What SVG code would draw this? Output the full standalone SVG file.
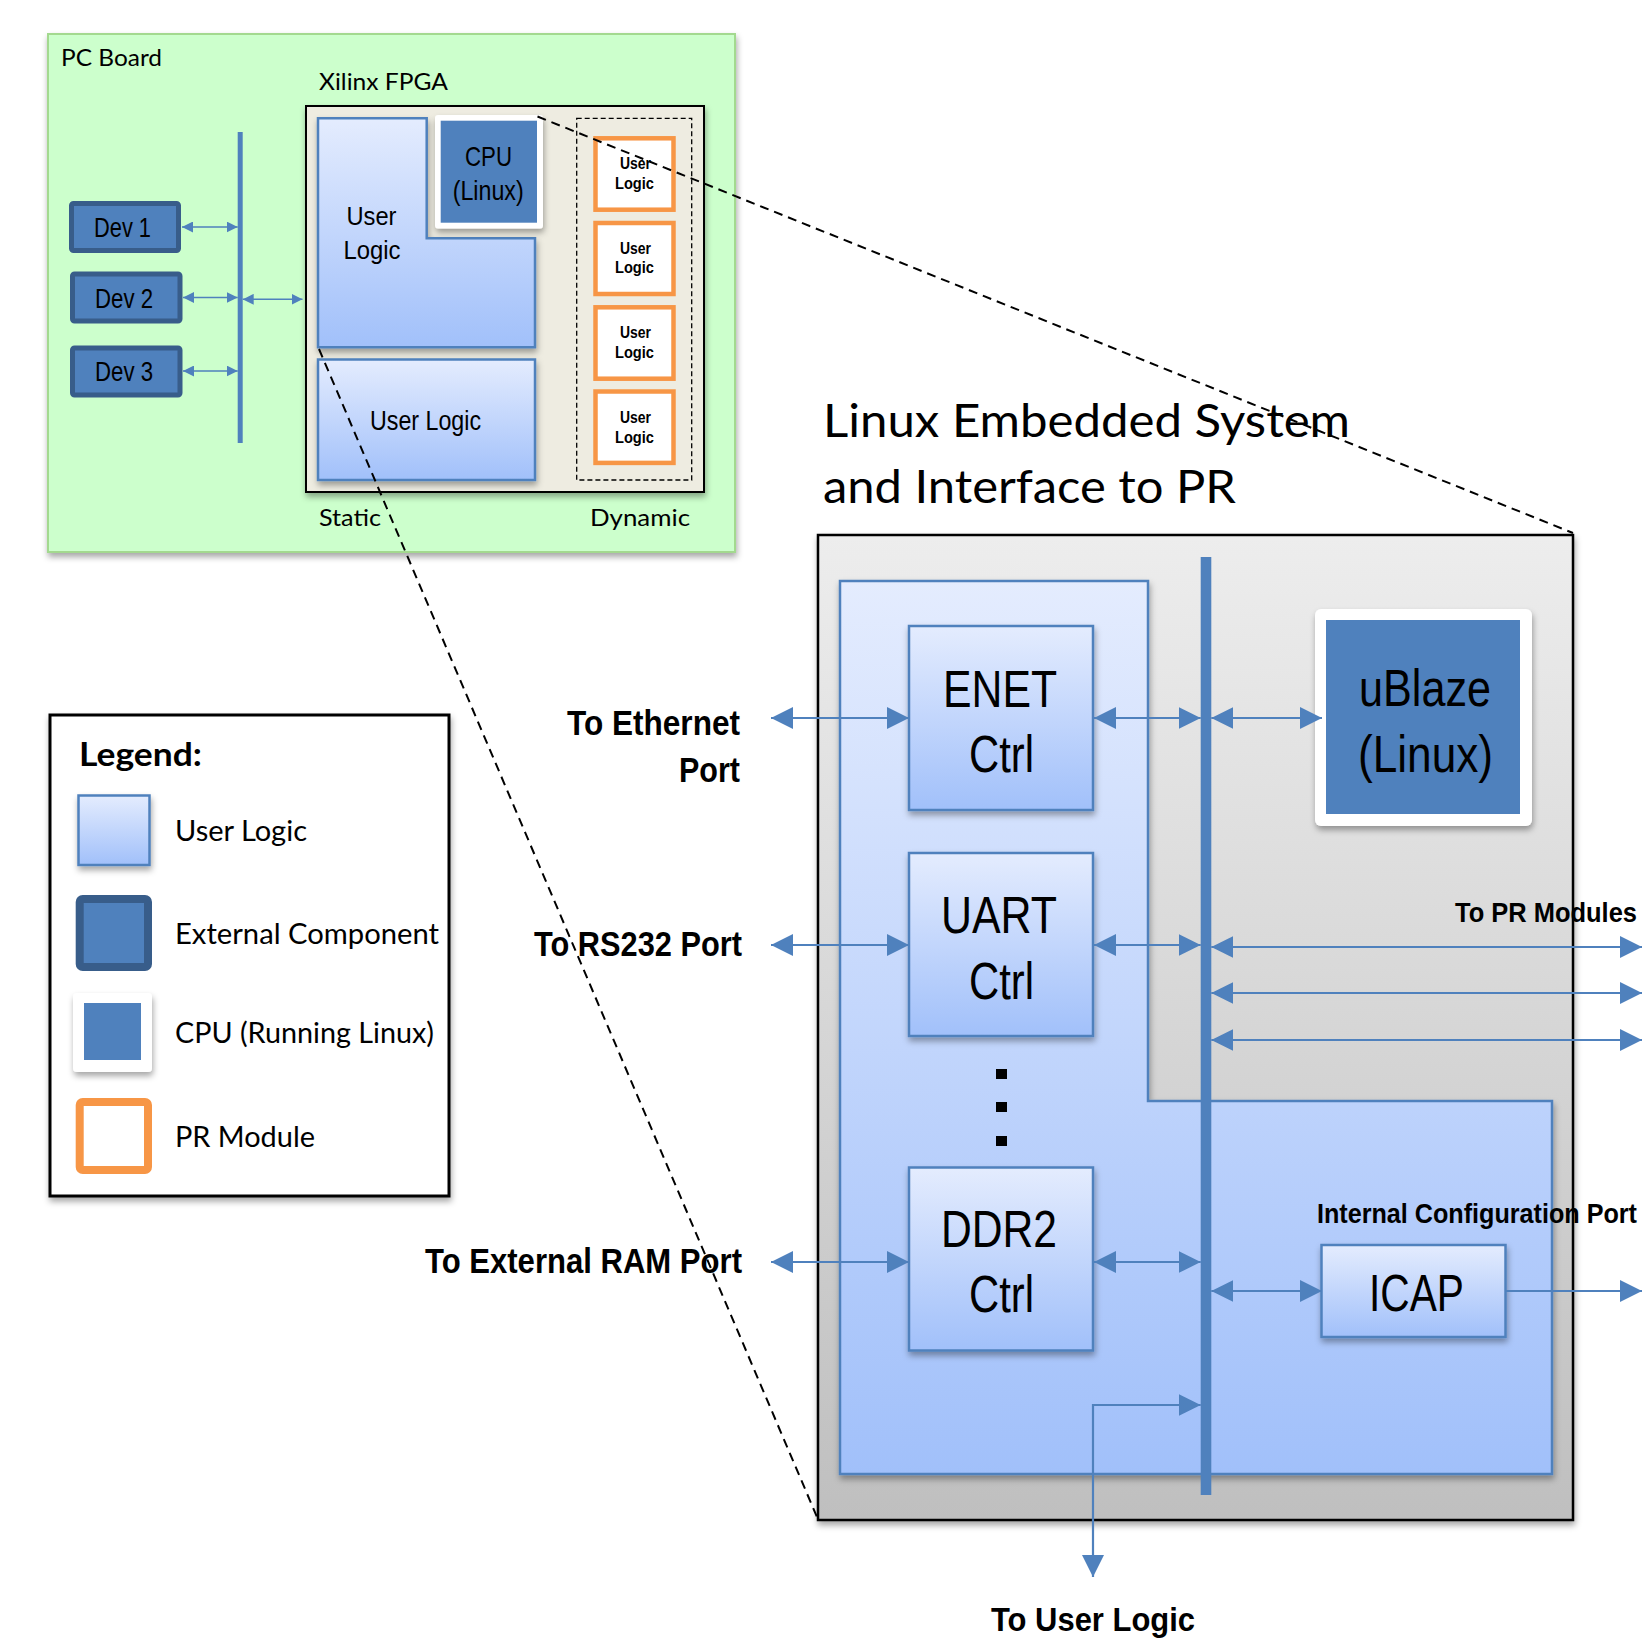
<svg xmlns="http://www.w3.org/2000/svg" width="1643" height="1640" viewBox="0 0 1643 1640">
  <defs>
    <linearGradient id="gUser" x1="0" y1="0" x2="0" y2="1">
      <stop offset="0" stop-color="#e4ecfe"/>
      <stop offset="1" stop-color="#a1c0fa"/>
    </linearGradient>
    <linearGradient id="gGrey" x1="0" y1="0" x2="0" y2="1">
      <stop offset="0" stop-color="#ededed"/>
      <stop offset="1" stop-color="#bfbfbf"/>
    </linearGradient>
    <filter id="sh" x="-10%" y="-10%" width="130%" height="130%">
      <feDropShadow dx="1" dy="4" stdDeviation="3" flood-color="#000" flood-opacity="0.35"/>
    </filter>
    <marker id="ah" markerUnits="userSpaceOnUse" markerWidth="22" markerHeight="22" viewBox="0 0 22 22" refX="22" refY="11" orient="auto-start-reverse">
      <path d="M0,0 L22,11 L0,22 Z" fill="#4f81bd"/>
    </marker>
    <marker id="as" markerUnits="userSpaceOnUse" markerWidth="11" markerHeight="11" viewBox="0 0 11 11" refX="11" refY="5.5" orient="auto-start-reverse">
      <path d="M0,0 L11,5.5 L0,11 Z" fill="#4f81bd"/>
    </marker>
  </defs>
  <style>
    .n { font-family: "Liberation Sans", Arial, sans-serif; fill: #000; }
    .c { font-family: Lato, "Open Sans", sans-serif; fill: #000; }
    .b { font-weight: bold; }
    .ul { fill: url(#gUser); stroke: #4f81bd; stroke-width: 2.5; filter: url(#sh); }
    .ext { fill: #4f81bd; stroke: #385d8a; stroke-width: 5; }
    .pr { fill: #fff; stroke: #f79646; stroke-width: 4.5; }
    .cpuf { fill: #fff; filter: url(#sh); }
    .blue { fill: #4f81bd; }
    .zoom { fill: none; stroke: #000; stroke-width: 2; stroke-dasharray: 9 6; }
    .cs { fill: none; stroke: #4f81bd; stroke-width: 1.6; marker-start: url(#as); marker-end: url(#as); }
    .cl { fill: none; stroke: #4f81bd; stroke-width: 2.2; marker-start: url(#ah); marker-end: url(#ah); }
    .cl1 { fill: none; stroke: #4f81bd; stroke-width: 2.2; marker-end: url(#ah); }
  </style>

  <rect x="0" y="0" width="1643" height="1640" fill="#fff"/>

  <!-- Board-level view -->
  <g id="pc-board">
    <rect x="48" y="34" width="687" height="518" fill="#ccffcc" stroke="#a3d98f" stroke-width="2" filter="url(#sh)"/>
    <text class="c" x="61" y="66" font-size="24" textLength="101" lengthAdjust="spacingAndGlyphs">PC Board</text>
  </g>

  <g id="dev1">
    <rect class="ext" x="71.5" y="203.5" width="107" height="47" rx="2"/>
    <text class="n" x="94" y="237" font-size="28" textLength="57" lengthAdjust="spacingAndGlyphs">Dev 1</text>
  </g>
  <g id="dev2">
    <rect class="ext" x="72.5" y="274" width="107.5" height="47" rx="2"/>
    <text class="n" x="95" y="307.5" font-size="28" textLength="58" lengthAdjust="spacingAndGlyphs">Dev 2</text>
  </g>
  <g id="dev3">
    <rect class="ext" x="72.5" y="348" width="107.5" height="47" rx="2"/>
    <text class="n" x="95" y="381" font-size="28" textLength="58" lengthAdjust="spacingAndGlyphs">Dev 3</text>
  </g>
  <g id="board-bus">
    <rect x="237.7" y="132" width="5" height="311" fill="#4f81bd"/>
  </g>

  <g id="fpga">
    <rect x="306" y="106" width="398" height="386" fill="#eeece1" stroke="#000" stroke-width="2" filter="url(#sh)"/>
    <text class="c" x="319" y="90" font-size="23" textLength="129" lengthAdjust="spacingAndGlyphs">Xilinx FPGA</text>
    <text class="c" x="319" y="526" font-size="24" textLength="62" lengthAdjust="spacingAndGlyphs">Static</text>
    <text class="c" x="590" y="526" font-size="24" textLength="100" lengthAdjust="spacingAndGlyphs">Dynamic</text>
  </g>

  <g id="static-user-logic-a">
    <path class="ul" d="M318,118.3 H426.7 V238.3 H535 V347.3 H318 Z" stroke-width="1.6"/>
    <text class="n" x="346.5" y="225" font-size="25" textLength="50" lengthAdjust="spacingAndGlyphs">User</text>
    <text class="n" x="343.5" y="259.3" font-size="25" textLength="57" lengthAdjust="spacingAndGlyphs">Logic</text>
  </g>
  <g id="static-cpu">
    <rect class="cpuf" x="435" y="115" width="108" height="113.5" rx="3"/>
    <rect class="blue" x="440.7" y="120.7" width="96.3" height="102"/>
    <text class="n" x="465" y="165.7" font-size="28" textLength="47" lengthAdjust="spacingAndGlyphs">CPU</text>
    <text class="n" x="452.7" y="200" font-size="28" textLength="71" lengthAdjust="spacingAndGlyphs">(Linux)</text>
  </g>
  <g id="static-user-logic-b">
    <rect class="ul" x="318" y="359.5" width="217" height="120.5" stroke-width="1.6"/>
    <text class="n" x="370" y="430" font-size="27" textLength="111" lengthAdjust="spacingAndGlyphs">User Logic</text>
  </g>

  <g id="dynamic-region">
    <rect x="576.7" y="118.3" width="115" height="361.7" fill="none" stroke="#000" stroke-width="1.3" stroke-dasharray="5 3"/>
  </g>
  <g id="pr1">
    <rect class="pr" x="595.5" y="138.3" width="78" height="71.4"/>
    <text class="n b" x="620" y="169" font-size="16" textLength="31" lengthAdjust="spacingAndGlyphs">User</text>
    <text class="n b" x="615" y="189.3" font-size="16" textLength="39" lengthAdjust="spacingAndGlyphs">Logic</text>
  </g>
  <g id="pr2">
    <rect class="pr" x="595.5" y="223" width="78" height="71"/>
    <text class="n b" x="620" y="254" font-size="16" textLength="31" lengthAdjust="spacingAndGlyphs">User</text>
    <text class="n b" x="615" y="273.3" font-size="16" textLength="39" lengthAdjust="spacingAndGlyphs">Logic</text>
  </g>
  <g id="pr3">
    <rect class="pr" x="595.5" y="307.3" width="78" height="71.4"/>
    <text class="n b" x="620" y="338.3" font-size="16" textLength="31" lengthAdjust="spacingAndGlyphs">User</text>
    <text class="n b" x="615" y="358.3" font-size="16" textLength="39" lengthAdjust="spacingAndGlyphs">Logic</text>
  </g>
  <g id="pr4">
    <rect class="pr" x="595.5" y="391.5" width="78" height="71.4"/>
    <text class="n b" x="620" y="423.3" font-size="16" textLength="31" lengthAdjust="spacingAndGlyphs">User</text>
    <text class="n b" x="615" y="443.3" font-size="16" textLength="39" lengthAdjust="spacingAndGlyphs">Logic</text>
  </g>

  <!-- Legend -->
  <g id="legend">
    <rect x="50" y="715" width="399" height="481" fill="#fff" stroke="#000" stroke-width="3" filter="url(#sh)"/>
    <text class="c b" x="79" y="766" font-size="32" textLength="123" lengthAdjust="spacingAndGlyphs">Legend:</text>
    <rect class="ul" x="78.5" y="795.5" width="71" height="69.5" stroke-width="2.5"/>
    <text class="c" x="175" y="841" font-size="28" textLength="132" lengthAdjust="spacingAndGlyphs">User Logic</text>
    <rect x="79.7" y="899" width="68.3" height="68" rx="3" fill="#4f81bd" stroke="#385d8a" stroke-width="8"/>
    <text class="c" x="175" y="944" font-size="28" textLength="264" lengthAdjust="spacingAndGlyphs">External Component</text>
    <rect class="cpuf" x="73" y="993" width="79" height="79" rx="4"/>
    <rect class="blue" x="84" y="1003" width="57" height="57"/>
    <text class="c" x="175" y="1043" font-size="28" textLength="259" lengthAdjust="spacingAndGlyphs">CPU (Running Linux)</text>
    <rect x="79.7" y="1102" width="68.3" height="68" rx="3" fill="#fff" stroke="#f79646" stroke-width="8"/>
    <text class="c" x="175" y="1147" font-size="28" textLength="140" lengthAdjust="spacingAndGlyphs">PR Module</text>
  </g>

  <!-- Embedded system detail -->
  <g id="title">
    <text class="c" x="823" y="437" font-size="46" textLength="527" lengthAdjust="spacingAndGlyphs">Linux Embedded System</text>
    <text class="c" x="823" y="503" font-size="46" textLength="413" lengthAdjust="spacingAndGlyphs">and Interface to PR</text>
  </g>

  <g id="embedded-system">
    <rect x="818" y="535" width="755" height="985" fill="url(#gGrey)" stroke="#000" stroke-width="2.5" filter="url(#sh)"/>
  </g>
  <g id="static-logic-panel">
    <path class="ul" d="M840,581 H1148 V1101 H1552 V1474 H840 Z" stroke-width="2.5"/>
  </g>
  <g id="system-bus">
    <rect x="1200.7" y="557" width="10.6" height="938" fill="#4f81bd"/>
  </g>

  <g id="enet">
    <rect class="ul" x="909" y="626" width="184" height="184"/>
    <text class="n" x="943" y="707" font-size="52" textLength="114" lengthAdjust="spacingAndGlyphs">ENET</text>
    <text class="n" x="969" y="772" font-size="52" textLength="65" lengthAdjust="spacingAndGlyphs">Ctrl</text>
  </g>
  <g id="uart">
    <rect class="ul" x="909" y="853" width="184" height="183"/>
    <text class="n" x="941" y="933" font-size="52" textLength="116" lengthAdjust="spacingAndGlyphs">UART</text>
    <text class="n" x="969" y="999" font-size="52" textLength="65" lengthAdjust="spacingAndGlyphs">Ctrl</text>
  </g>
  <g id="more-peripherals">
    <rect x="996" y="1069" width="11" height="10"/>
    <rect x="996" y="1102" width="11" height="10"/>
    <rect x="996" y="1136" width="11" height="10"/>
  </g>
  <g id="ddr2">
    <rect class="ul" x="909" y="1167.5" width="184" height="183"/>
    <text class="n" x="941" y="1246.5" font-size="52" textLength="116" lengthAdjust="spacingAndGlyphs">DDR2</text>
    <text class="n" x="969" y="1312" font-size="52" textLength="65" lengthAdjust="spacingAndGlyphs">Ctrl</text>
  </g>
  <g id="ublaze">
    <rect class="cpuf" x="1315" y="609" width="217" height="217" rx="6"/>
    <rect class="blue" x="1326" y="620" width="194" height="194"/>
    <text class="n" x="1359" y="706" font-size="52" textLength="132" lengthAdjust="spacingAndGlyphs">uBlaze</text>
    <text class="n" x="1358" y="772" font-size="52" textLength="135" lengthAdjust="spacingAndGlyphs">(Linux)</text>
  </g>
  <g id="icap">
    <rect class="ul" x="1321.5" y="1245" width="184" height="92"/>
    <text class="n" x="1369" y="1311" font-size="52" textLength="95" lengthAdjust="spacingAndGlyphs">ICAP</text>
    <text class="n b" x="1317" y="1223" font-size="28" textLength="320" lengthAdjust="spacingAndGlyphs">Internal Configuration Port</text>
  </g>

  <g id="port-labels">
    <text class="n b" x="567" y="735" font-size="35" textLength="173" lengthAdjust="spacingAndGlyphs">To Ethernet</text>
    <text class="n b" x="679" y="782" font-size="35" textLength="61" lengthAdjust="spacingAndGlyphs">Port</text>
    <text class="n b" x="534" y="956" font-size="35" textLength="208" lengthAdjust="spacingAndGlyphs">To RS232 Port</text>
    <text class="n b" x="425" y="1273" font-size="35" textLength="317" lengthAdjust="spacingAndGlyphs">To External RAM Port</text>
    <text class="n b" x="1455" y="922" font-size="28" textLength="182" lengthAdjust="spacingAndGlyphs">To PR Modules</text>
    <text class="n b" x="991" y="1631" font-size="34" textLength="204" lengthAdjust="spacingAndGlyphs">To User Logic</text>
  </g>

  <!-- Connectors -->
  <g id="connectors">
    <line class="cs" x1="182" y1="227" x2="237.7" y2="227"/>
    <line class="cs" x1="183" y1="297.5" x2="237.7" y2="297.5"/>
    <line class="cs" x1="183" y1="371" x2="237.7" y2="371"/>
    <line class="cs" x1="242.7" y1="299.3" x2="302.5" y2="299.3"/>

    <line class="cl" x1="771" y1="718" x2="909" y2="718"/>
    <line class="cl" x1="1094" y1="718" x2="1200.7" y2="718"/>
    <line class="cl" x1="1211.3" y1="718" x2="1322" y2="718"/>

    <line class="cl" x1="771" y1="945" x2="909" y2="945"/>
    <line class="cl" x1="1094" y1="945" x2="1200.7" y2="945"/>
    <line class="cl" x1="1211.3" y1="947" x2="1642" y2="947"/>
    <line class="cl" x1="1211.3" y1="993" x2="1642" y2="993"/>
    <line class="cl" x1="1211.3" y1="1040" x2="1642" y2="1040"/>

    <line class="cl" x1="771" y1="1262" x2="909" y2="1262"/>
    <line class="cl" x1="1094" y1="1262" x2="1200.7" y2="1262"/>
    <line class="cl" x1="1211.3" y1="1291" x2="1322" y2="1291"/>
    <line class="cl1" x1="1505.5" y1="1291" x2="1642" y2="1291"/>

    <path class="cl" d="M1093,1577 V1405 H1200.7"/>

    <line class="zoom" x1="537.5" y1="116.5" x2="1573" y2="533"/>
    <line class="zoom" x1="319" y1="349" x2="817" y2="1517"/>
  </g>
</svg>
